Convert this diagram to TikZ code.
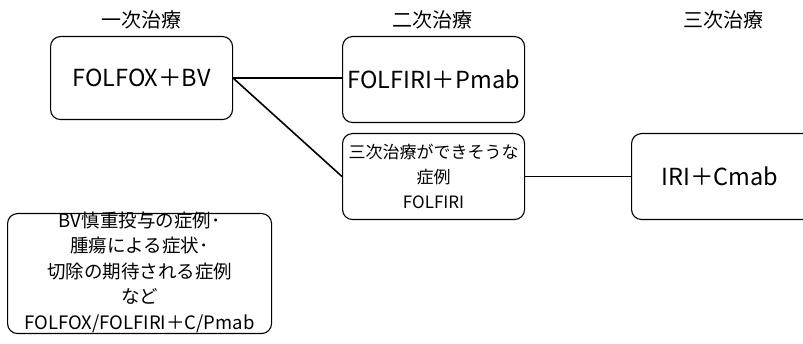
\documentclass[tikz,border=0pt]{standalone}
\usepackage{fontspec}
\setmainfont{Noto Sans CJK JP}
\begin{document}
\begin{tikzpicture}[x=1pt,y=-1pt,
  box/.style={draw, line width=1.1pt, rounded corners=10pt, inner sep=0pt, anchor=north west},
  head/.style={font=\fontsize{20}{22}\selectfont},
  big/.style={font=\fontsize{23.5}{26}\selectfont},
  mid/.style={font=\fontsize{17}{25}\selectfont, align=center},
  note/.style={font=\fontsize{18.5}{25.5}\selectfont, align=center},
  link/.style={line width=1.6pt}]
\useasboundingbox (0,0) rectangle (803,344);
\node[head] (h1) at (141,20) {一次治療};
\node[head] (h2) at (432,20) {二次治療};
\node[head] (h3) at (723,20) {三次治療};
\node[box, minimum width=182pt, minimum height=83pt] (a) at (50,36) {};
\node[big] (ta) at (a.center) {FOLFOX＋BV};
\node[box, minimum width=182pt, minimum height=86pt] (b) at (342,36) {};
\node[big] (tb) at (b.center) {FOLFIRI＋Pmab};
\node[box, minimum width=182pt, minimum height=86pt] (c) at (342,133) {};
\node[mid] (tc) at (c.center) {三次治療ができそうな\\症例\\FOLFIRI};
\node[box, minimum width=182pt, minimum height=86pt] (d) at (631,133) {};
\node[big] (td) at (720,176) {IRI＋Cmab};
\node[box, minimum width=264pt, minimum height=120pt] (e) at (7,213) {};
\node[note] (te) at ([yshift=1.5pt]e.center) {BV慎重投与の症例･\\腫瘍による症状･\\切除の期待される症例\\など\\FOLFOX/FOLFIRI＋C/Pmab};
\draw[link] (a.east) -- (a.east -| b.west);
\draw[link] (a.east) -- (c.west);
\draw[link] (c.east) -- (d.west);
\end{tikzpicture}
\end{document}
